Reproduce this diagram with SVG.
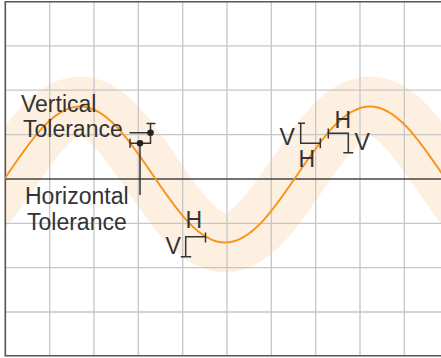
<svg xmlns="http://www.w3.org/2000/svg" width="441" height="358" viewBox="0 0 441 358">
<style>
.grid{stroke:#c6c6c6;stroke-width:1.3;fill:none}
.frame{stroke:#555;stroke-width:1.6;fill:none}
.axis{stroke:#444;stroke-width:1.5;fill:none}
.band{stroke:#fef0e1;stroke-width:60;fill:none}
.curve{stroke:#f7941d;stroke-width:2;fill:none}
.tol{stroke:#333;stroke-width:1.5;fill:none}
.dot{fill:#222}
text{font-family:"Liberation Sans",Arial,sans-serif;font-size:23px;fill:#333}
</style>
<defs>
<clipPath id="plot"><rect x="5.3" y="0" width="436" height="356"/></clipPath>
<path id="wave" d="M-65,242.5 C-38.76,242.5 -16.14,209.34 7.5,174.5 C31.14,139.66 53.76,106.5 80,106.5 C106.24,106.5 128.86,139.66 152.5,174.5 C176.14,209.34 198.76,242.5 225,242.5 C251.24,242.5 273.86,209.34 297.5,174.5 C321.14,139.66 343.76,106.5 370,106.5 C396.24,106.5 418.86,139.66 442.5,174.5 C466.14,209.34 488.76,242.5 515,242.5"/>
</defs>
<rect x="0" y="0" width="441" height="358" fill="#fff"/>
<g id="band" clip-path="url(#plot)"><use href="#wave" class="band"/></g>
<g id="grid">
<path class="grid" d="M49.7,1.7V355.7 M94,1.7V355.7 M138.3,1.7V355.7 M182.7,1.7V355.7 M227,1.7V355.7 M271.3,1.7V355.7 M315.7,1.7V355.7 M360,1.7V355.7 M404.3,1.7V355.7"/>
<path class="grid" d="M5.3,45.9H441 M5.3,90.2H441 M5.3,134.6H441 M5.3,223.3H441 M5.3,267.7H441 M5.3,312H441"/>
<path class="axis" d="M5.3,179H441"/>
<path class="frame" d="M441,1.7H5.3V355.7H441"/>
</g>
<g id="curve" clip-path="url(#plot)"><use href="#wave" class="curve"/></g>
<g id="connectors">
<path class="tol" d="M129.5,132.7H150.5 M146.5,123.5H155.5 M150.5,123.5V143.3H130 M130,138.8V147.8 M140,143.3V195"/>
<circle class="dot" cx="150.5" cy="132.7" r="3.3"/>
<circle class="dot" cx="140" cy="143.3" r="3.3"/>
<path class="tol" d="M205.5,232.5V242.5 M205.5,236.7H185.7V256.7 M180.7,256.7H191.2"/>
<path class="tol" d="M298,123.3H305 M300.7,123.3V143.3H320.3 M320.3,138.3V148.3"/>
<path class="tol" d="M328.3,128.5V138.5 M328.3,133.3H348.3V152.7 M343.3,152.7H353.3"/>
</g>
<g id="label-vertical"><text x="21" y="112">Vertical</text><text x="23" y="137.3">Tolerance</text></g>
<g id="label-horizontal"><text x="25" y="204">Horizontal</text><text x="27" y="230">Tolerance</text></g>
<g id="bracket-labels">
<text x="185.5" y="228.3">H</text>
<text x="165.5" y="254">V</text>
<text x="279.5" y="145">V</text>
<text x="298.5" y="167.3">H</text>
<text x="334.5" y="128.3">H</text>
<text x="354.5" y="150">V</text>
</g>
</svg>
